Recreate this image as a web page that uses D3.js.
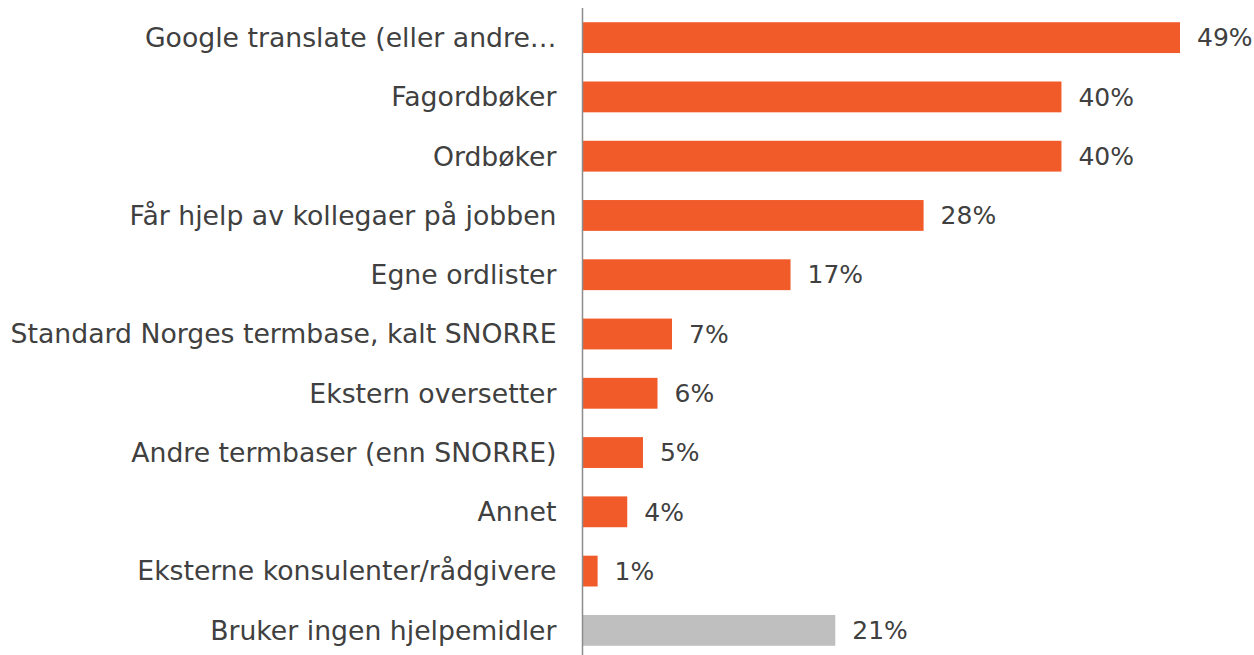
<!DOCTYPE html>
<html>
<head>
  <meta charset="UTF-8">
  <title>Hjelpemidler</title>
  <script src="https://cdn.jsdelivr.net/npm/d3@7"></script>
  <style>
    body { margin: 0; background: #fff; }
    text { font-family: "Century Gothic", "DejaVu Sans", sans-serif; fill: #404040; }
  </style>
</head>
<body>
  <svg id="chart" width="1254" height="655"></svg>
  <script>
    // categories, top to bottom
    const categories = [
      'Google translate (eller andre\u2026',
      'Fagordbøker',
      'Ordbøker',
      'Får hjelp av kollegaer på jobben',
      'Egne ordlister',
      'Standard Norges termbase, kalt SNORRE',
      'Ekstern oversetter',
      'Andre termbaser (enn SNORRE)',
      'Annet',
      'Eksterne konsulenter/rådgivere',
      'Bruker ingen hjelpemidler'
    ];
    // share in percent (labels are rounded)
    const values = [49.4, 39.6, 39.6, 28.2, 17.2, 7.4, 6.2, 5.0, 3.7, 1.25, 20.9];
    const greyRows = ['Bruker ingen hjelpemidler'];

    const svg = d3.select('#chart');
    const axisX = 582.5;

    const x = d3.scaleLinear().domain([0, 49.4]).range([axisX, 1180]);
    const y = d3.scaleBand().domain(categories).range([8, 660]).paddingInner(0.48).paddingOuter(0.24);

    const rows = svg.selectAll('g.row').data(categories).enter()
      .append('g').attr('class', 'row');

    rows.append('rect')
      .attr('x', x(0))
      .attr('y', d => y(d))
      .attr('height', y.bandwidth())
      .attr('width', (d, i) => x(values[i]) - x(0))
      .attr('fill', d => greyRows.includes(d) ? '#bfbfbf' : '#f15a29');

    rows.append('text')
      .attr('x', axisX - 26)
      .attr('y', d => y(d) + y.bandwidth() / 2)
      .attr('dy', '0.35em')
      .attr('text-anchor', 'end')
      .style('font-size', '26.7px')
      .text(d => d);

    rows.append('text')
      .attr('x', (d, i) => x(values[i]) + 17)
      .attr('y', d => y(d) + y.bandwidth() / 2)
      .attr('dy', '0.35em')
      .style('font-size', '25px')
      .text((d, i) => Math.round(values[i]) + '%');

    svg.append('line')
      .attr('x1', axisX).attr('x2', axisX)
      .attr('y1', 8).attr('y2', 655)
      .attr('stroke', '#8c8c8c')
      .attr('stroke-width', 1.5);
  </script>
</body>
</html>
